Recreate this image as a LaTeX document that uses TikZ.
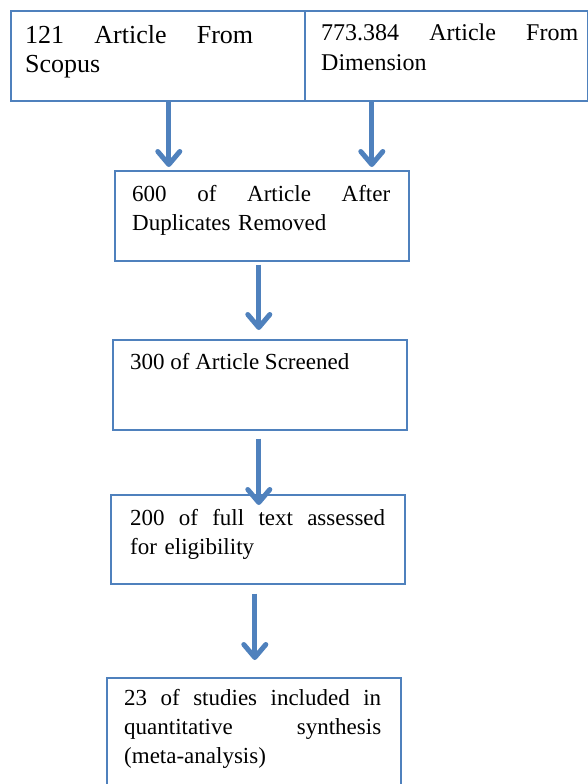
\documentclass[tikz,border=0pt]{standalone}
\usepackage{fontspec}
\setmainfont{Liberation Serif}
\usetikzlibrary{arrows.meta}
\definecolor{flowblue}{RGB}{79,129,189}
\tikzset{
  stagebox/.style={draw=flowblue, line width=1.6pt, anchor=north west, minimum width=294pt, minimum height=90pt, inner sep=0pt},
  stagetext/.style={anchor=north west, align=left, inner sep=0pt, font=\fontsize{23}{29}\selectfont},
  flow/.style={draw=flowblue, line width=5pt, -{Straight Barb[length=13pt,width=22pt,line join=round,line cap=round]}},
}
\begin{document}
\begin{tikzpicture}[x=1pt,y=-1pt]
\useasboundingbox (0,0) rectangle (588,784);
% boxes
\node[stagebox] (scopus) at (10,10) {};
\node[stagebox, minimum width=283pt] (dimension) at (304,10) {};
\node[stagebox] (dupl) at (114,170) {};
\node[stagebox] (screen) at (112,339) {};
\node[stagebox, minimum height=89pt] (assess) at (110,494) {};
\node[stagebox, minimum height=120pt] (incl) at (106,677) {};
% texts
\node[stagetext, text width=228pt, font=\fontsize{26}{29}\selectfont] (scopus-txt) at (25,25) {121\hfill Article\hfill From\\Scopus};
\node[stagetext, text width=257pt, font=\fontsize{24}{30}\selectfont] (dimension-txt) at (321,24) {773.384\hfill Article\hfill From\\Dimension};
\node[stagetext, text width=258pt] (dupl-txt) at (132,185) {600\hfill of\hfill Article\hfill After\\Duplicates Removed};
\node[stagetext] (screen-txt) at (130,353) {300 of Article Screened};
\node[stagetext, text width=255pt] (assess-txt) at (130,509) {200\hfill of\hfill full\hfill text\hfill assessed\\for eligibility};
\node[stagetext, text width=257pt] (incl-txt) at (124,689) {23\hfill of\hfill studies\hfill included\hfill in\\quantitative\hfill synthesis\\(meta-analysis)};
% arrows
\draw[flow, shorten >=3pt] ([xshift=11pt]scopus.south) -- ([xshift=11pt]scopus.south |- dupl.north);
\draw[flow, shorten >=3pt] ([xshift=-74.5pt]dimension.south) -- ([xshift=-74.5pt]dimension.south |- dupl.north);
\draw[flow, shorten <=3pt, shorten >=9pt] ([xshift=-3pt]dupl.south) -- ([xshift=-3pt]dupl.south |- screen.north);
\draw[flow, shorten <=8pt, shorten >=-11pt] ([xshift=-1pt]screen.south) -- ([xshift=-1pt]screen.south |- assess.north);
\draw[flow, shorten <=9pt, shorten >=17pt] ([xshift=-3pt]assess.south) -- ([xshift=-3pt]assess.south |- incl.north);
\end{tikzpicture}
\end{document}
